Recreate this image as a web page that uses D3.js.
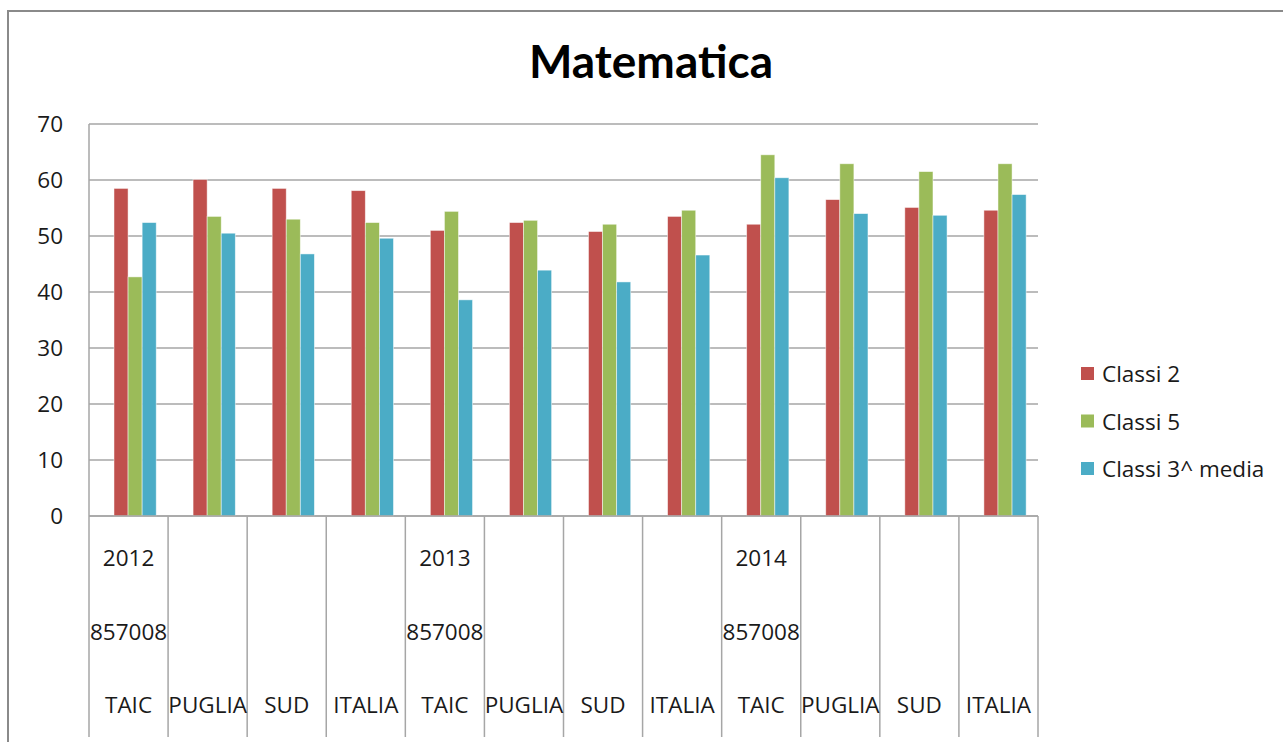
<!DOCTYPE html>
<html>
<head>
<meta charset="utf-8">
<script src="https://cdn.jsdelivr.net/npm/d3@7/dist/d3.min.js"></script>
<style>
  body { margin: 0; background: #fff; }
  svg { display: block; font-family: "Open Sans", Lato, sans-serif; }
</style>
</head>
<body>
<div id="chart"></div>
<script>
// categories (three label rows)
const yearLabels = ["2012", "", "", "", "2013", "", "", "", "2014", "", "", ""];
const codeLabels = ["857008", "", "", "", "857008", "", "", "", "857008", "", "", ""];
const areaLabels = ["TAIC", "PUGLIA", "SUD", "ITALIA", "TAIC", "PUGLIA", "SUD", "ITALIA", "TAIC", "PUGLIA", "SUD", "ITALIA"];

const seriesNames = ["Classi 2", "Classi 5", "Classi 3^ media"];
const classi2 = [58.5, 60.1, 58.5, 58.1, 51.0, 52.4, 50.8, 53.5, 52.1, 56.5, 55.1, 54.6];
const classi5 = [42.7, 53.5, 53.0, 52.4, 54.4, 52.8, 52.1, 54.6, 64.5, 62.9, 61.5, 62.9];
const classi3media = [52.4, 50.5, 46.8, 49.6, 38.6, 43.9, 41.8, 46.6, 60.4, 54.0, 53.7, 57.4];
const yTicks = [0, 10, 20, 30, 40, 50, 60, 70];

const colors = ["#C0504D", "#9BBB59", "#4BACC6"];

const width = 1283;
const height = 742;
const margin = { left: 89, right: 245, top: 124, plotBottom: 516, labelBottom: 737 };
const fontSize = "22.5px";

const svg = d3.select("#chart").append("svg")
  .attr("width", width)
  .attr("height", height);

// outer chart frame (runs off the right and bottom edge)
svg.append("rect")
  .attr("x", 8).attr("y", 11)
  .attr("width", 1400).attr("height", 800)
  .attr("fill", "#fff")
  .attr("stroke", "#8a8a8a")
  .attr("stroke-width", 2);

// title
svg.append("text")
  .attr("x", 651).attr("y", 78)
  .attr("text-anchor", "middle")
  .style("font-family", "Lato, sans-serif")
  .style("font-size", "46px")
  .style("font-weight", "bold")
  .attr("fill", "#000")
  .text("Matematica");

const idx = d3.range(areaLabels.length);
const x0 = d3.scaleBand()
  .domain(idx)
  .range([margin.left, width - margin.right])
  .padding(0);
const bw = x0.bandwidth();
const x1 = d3.scaleBand()
  .domain(d3.range(seriesNames.length))
  .range([bw * 0.316, bw * 0.85])
  .padding(0);

const y = d3.scaleLinear()
  .domain([0, 70])
  .range([margin.plotBottom, margin.top]);

// gridlines
svg.append("g")
  .selectAll("line")
  .data(yTicks)
  .join("line")
  .attr("x1", margin.left).attr("x2", width - margin.right)
  .attr("y1", d => y(d)).attr("y2", d => y(d))
  .attr("stroke", "#a6a6a6")
  .attr("stroke-width", 1.5);

// y axis line
svg.append("line")
  .attr("x1", margin.left).attr("x2", margin.left)
  .attr("y1", y(70)).attr("y2", margin.plotBottom)
  .attr("stroke", "#a6a6a6")
  .attr("stroke-width", 1.5);

// y tick labels
svg.append("g")
  .selectAll("text")
  .data(yTicks)
  .join("text")
  .attr("x", 63)
  .attr("y", d => y(d))
  .attr("dy", "0.36em")
  .attr("text-anchor", "end")
  .style("font-size", fontSize)
  .attr("fill", "#1a1a1a")
  .text(d => d);

// bars
const series = [classi2, classi5, classi3media];
const groups = svg.append("g")
  .selectAll("g")
  .data(idx)
  .join("g")
  .attr("transform", i => `translate(${x0(i)},0)`);

groups.selectAll("rect")
  .data(i => series.map((s, k) => ({ k, v: s[i] })))
  .join("rect")
  .attr("x", d => x1(d.k))
  .attr("y", d => y(d.v))
  .attr("width", x1.bandwidth())
  .attr("height", d => y(0) - y(d.v))
  .attr("fill", d => colors[d.k])
  .attr("stroke", "rgba(255,255,255,0.6)")
  .attr("stroke-width", 0.8);

// category separators in the label area
svg.append("g")
  .selectAll("line")
  .data(d3.range(areaLabels.length + 1))
  .join("line")
  .attr("x1", i => margin.left + i * bw)
  .attr("x2", i => margin.left + i * bw)
  .attr("y1", margin.plotBottom)
  .attr("y2", margin.labelBottom)
  .attr("stroke", "#a6a6a6")
  .attr("stroke-width", 1.5);

// category labels, three rows
const rows = [
  { labels: yearLabels, y: 558 },
  { labels: codeLabels, y: 632 },
  { labels: areaLabels, y: 705 }
];
rows.forEach(row => {
  svg.append("g")
    .selectAll("text")
    .data(idx)
    .join("text")
    .attr("x", i => x0(i) + bw / 2)
    .attr("y", row.y)
    .attr("dy", "0.36em")
    .attr("text-anchor", "middle")
    .style("font-size", fontSize)
    .attr("fill", "#1a1a1a")
    .text(i => row.labels[i]);
});

// x axis line (drawn over bars' bottom)
svg.append("line")
  .attr("x1", margin.left).attr("x2", width - margin.right)
  .attr("y1", margin.plotBottom).attr("y2", margin.plotBottom)
  .attr("stroke", "#a6a6a6")
  .attr("stroke-width", 1.5);

// legend
const legend = svg.append("g").attr("transform", "translate(1081,374)");
seriesNames.forEach((name, k) => {
  legend.append("rect")
    .attr("x", 0)
    .attr("y", k * 47.5 - 7)
    .attr("width", 13)
    .attr("height", 13)
    .attr("fill", colors[k]);
  legend.append("text")
    .attr("x", 21)
    .attr("y", k * 47.5)
    .attr("dy", "0.36em")
    .style("font-size", fontSize)
    .attr("fill", "#1a1a1a")
    .text(name);
});
</script>
</body>
</html>
